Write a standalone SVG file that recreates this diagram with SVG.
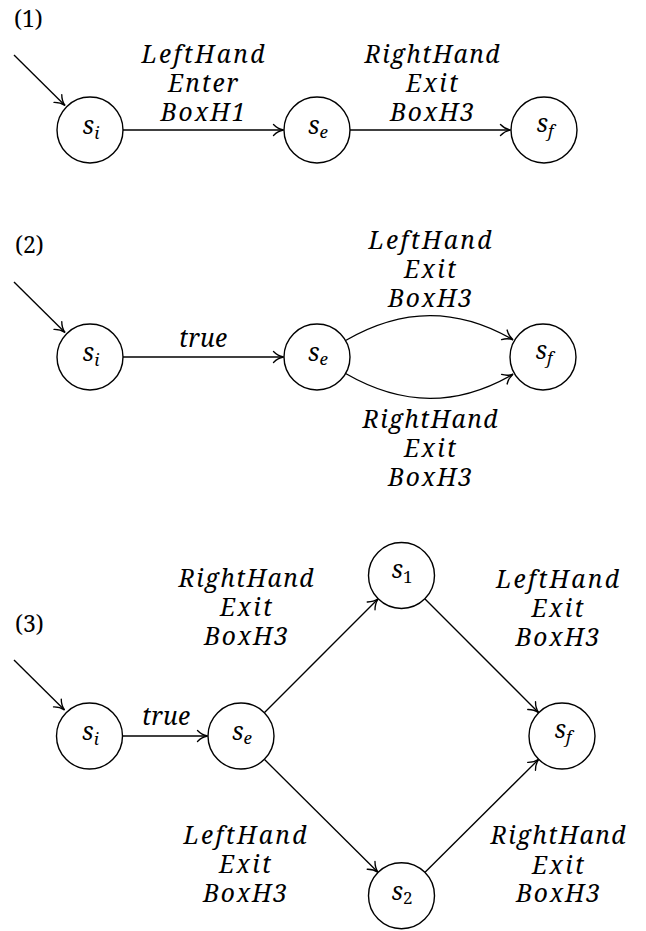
<svg xmlns="http://www.w3.org/2000/svg" width="646" height="931" viewBox="0 0 646 931">
<style>
  .node circle { fill: #fff; stroke: #000; stroke-width: 1.4; }
  .m { font-family: 'Noto Serif', 'DejaVu Serif', serif; font-style: italic; font-size: 24.5px; fill: #000; }
  .s { font-family: 'Noto Serif', 'DejaVu Serif', serif; font-style: italic; font-size: 25px; fill: #000; }
  .sub { font-size: 17px; font-style: italic; }
  .subn { font-size: 17px; font-style: normal; }
  .num { font-family: 'Noto Serif', 'DejaVu Serif', serif; font-size: 23px; fill: #000; }
  .edge { fill: none; stroke: #000; stroke-width: 1.35; marker-end: url(#tip); }
  .lbl { text-anchor: middle; }
</style>
<defs>
  <marker id="tip" markerUnits="userSpaceOnUse" viewBox="-12 -7 14 14" markerWidth="14" markerHeight="14" refX="0" refY="0" orient="auto">
    <path d="M -10 -5.5 C -7 -2.4, -2.8 -0.5, 0 0 C -2.8 0.5, -7 2.4, -10 5.5" fill="none" stroke="#000" stroke-width="1.35" stroke-linecap="round"/>
  </marker>
</defs>

<g id="section-labels">
  <text class="num" x="14" y="26.5">(1)</text>
  <text class="num" x="15" y="253">(2)</text>
  <text class="num" x="15" y="632">(3)</text>
</g>

<g id="connectors">
  <line class="edge" x1="14" y1="55" x2="65" y2="105.5"/>
  <line class="edge" x1="123" y1="130" x2="283.5" y2="130"/>
  <line class="edge" x1="350" y1="130" x2="510.5" y2="130"/>
  <line class="edge" x1="14" y1="282" x2="65" y2="332.5"/>
  <line class="edge" x1="123" y1="357" x2="283.5" y2="357"/>
  <path class="edge" d="M345.6,340.5 C402.8,307.5 457.2,307.5 513,339.8"/>
  <path class="edge" d="M345.6,373.5 C402.8,406.5 457.2,406.5 513,374.2"/>
  <line class="edge" x1="14" y1="660" x2="64.5" y2="710"/>
  <line class="edge" x1="122.5" y1="736" x2="207.5" y2="736"/>
  <line class="edge" x1="264.3" y1="712.7" x2="378.2" y2="598.8"/>
  <line class="edge" x1="424.8" y1="598.8" x2="538.7" y2="712.7"/>
  <line class="edge" x1="264.3" y1="759.3" x2="378.2" y2="872.4"/>
  <line class="edge" x1="424.8" y1="872.4" x2="538.7" y2="759.3"/>

  <g id="edge-labels">
    <text class="m lbl" x="203" y="63" textLength="123">LeftHand</text>
    <text class="m lbl" x="203" y="92" textLength="70">Enter</text>
    <text class="m lbl" x="203" y="121" textLength="85">BoxH1</text>
    <text class="m lbl" x="432" y="63" textLength="135">RightHand</text>
    <text class="m lbl" x="432" y="92" textLength="52">Exit</text>
    <text class="m lbl" x="432" y="121" textLength="84">BoxH3</text>
    <text class="m lbl" x="203" y="347" textLength="48">true</text>
    <text class="m lbl" x="430" y="249" textLength="123">LeftHand</text>
    <text class="m lbl" x="430" y="278" textLength="52">Exit</text>
    <text class="m lbl" x="430" y="307" textLength="84">BoxH3</text>
    <text class="m lbl" x="430" y="428" textLength="135">RightHand</text>
    <text class="m lbl" x="430" y="457" textLength="52">Exit</text>
    <text class="m lbl" x="430" y="486" textLength="84">BoxH3</text>
    <text class="m lbl" x="166" y="725" textLength="48">true</text>
    <text class="m lbl" x="246" y="587" textLength="135">RightHand</text>
    <text class="m lbl" x="246" y="616" textLength="52">Exit</text>
    <text class="m lbl" x="246" y="645" textLength="84">BoxH3</text>
    <text class="m lbl" x="557.5" y="588" textLength="123">LeftHand</text>
    <text class="m lbl" x="557.5" y="617" textLength="52">Exit</text>
    <text class="m lbl" x="557.5" y="645.5" textLength="84">BoxH3</text>
    <text class="m lbl" x="245" y="844" textLength="123">LeftHand</text>
    <text class="m lbl" x="245" y="873" textLength="52">Exit</text>
    <text class="m lbl" x="245" y="902" textLength="84">BoxH3</text>
    <text class="m lbl" x="558" y="844" textLength="135">RightHand</text>
    <text class="m lbl" x="558" y="873.5" textLength="52">Exit</text>
    <text class="m lbl" x="558" y="902" textLength="84">BoxH3</text>
  </g>
</g>

<g id="s1-si" class="node"><circle cx="90" cy="130" r="33"/><text class="s lbl" x="91" y="134">s<tspan class="sub" dy="5">i</tspan></text></g>
<g id="s1-se" class="node"><circle cx="317" cy="130" r="33"/><text class="s lbl" x="318" y="134">s<tspan class="sub" dy="4">e</tspan></text></g>
<g id="s1-sf" class="node"><circle cx="544" cy="130" r="33"/><text class="s lbl" x="545" y="131.5">s<tspan class="sub" dy="5">f</tspan></text></g>

<g id="s2-si" class="node"><circle cx="90" cy="357" r="33"/><text class="s lbl" x="91" y="361">s<tspan class="sub" dy="5">i</tspan></text></g>
<g id="s2-se" class="node"><circle cx="317" cy="357" r="33"/><text class="s lbl" x="318" y="361">s<tspan class="sub" dy="4">e</tspan></text></g>
<g id="s2-sf" class="node"><circle cx="543" cy="357" r="33"/><text class="s lbl" x="544" y="358.5">s<tspan class="sub" dy="5">f</tspan></text></g>

<g id="s3-si" class="node"><circle cx="89.5" cy="736" r="33"/><text class="s lbl" x="90.5" y="740">s<tspan class="sub" dy="5">i</tspan></text></g>
<g id="s3-se" class="node"><circle cx="241" cy="736" r="33"/><text class="s lbl" x="242" y="740">s<tspan class="sub" dy="4">e</tspan></text></g>
<g id="s3-s1" class="node"><circle cx="401.5" cy="575.5" r="33"/><text class="s lbl" x="402" y="577.5">s<tspan class="subn" dy="5">1</tspan></text></g>
<g id="s3-s2" class="node"><circle cx="401.5" cy="895.7" r="33"/><text class="s lbl" x="402" y="899.5">s<tspan class="subn" dy="4">2</tspan></text></g>
<g id="s3-sf" class="node"><circle cx="562" cy="736" r="33"/><text class="s lbl" x="563" y="737.5">s<tspan class="sub" dy="5">f</tspan></text></g>
</svg>
